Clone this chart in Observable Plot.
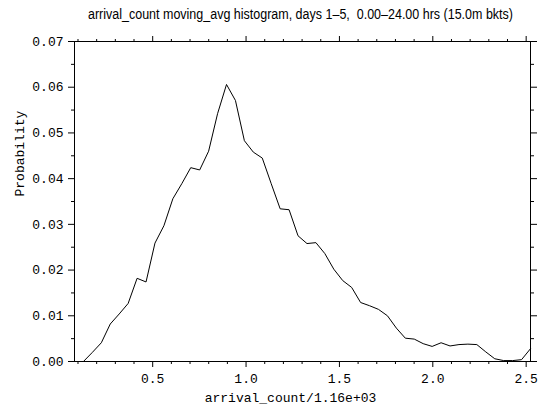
<!DOCTYPE html>
<html>
<head>
<meta charset="utf-8">
<script src="https://cdn.jsdelivr.net/npm/d3@7"></script>
<script src="https://cdn.jsdelivr.net/npm/@observablehq/plot@0.6"></script>
<style>
  html, body { margin: 0; padding: 0; background: #fff; }
  #wrap { position: relative; width: 541px; height: 410px; overflow: hidden; }
  #title {
    position: absolute; left: 88px; top: 0; height: 28px;
    line-height: 28px; white-space: pre;
    font-family: "Liberation Sans Narrow", "Liberation Sans", sans-serif;
    font-size: 14px; color: #000; transform-origin: 0 50%;
  }
  #chart { position: absolute; left: 0; top: 28px; }
</style>
</head>
<body>
<div id="wrap">
  <span id="title"></span>
  <div id="chart"></div>
</div>
<script>
// Histogram bucket centres (arrival_count / 1160) and their probabilities
const binCenters = [
  0.0813, 0.1292, 0.1771, 0.2250, 0.2728, 0.3207, 0.3686, 0.4165, 0.4644, 0.5122,
  0.5601, 0.6080, 0.6559, 0.7038, 0.7516, 0.7995, 0.8474, 0.8953, 0.9432, 0.9910,
  1.0389, 1.0868, 1.1347, 1.1826, 1.2304, 1.2783, 1.3262, 1.3741, 1.4220, 1.4698,
  1.5177, 1.5656, 1.6135, 1.6614, 1.7092, 1.7571, 1.8050, 1.8529, 1.9008, 1.9486,
  1.9965, 2.0444, 2.0923, 2.1402, 2.1880, 2.2359, 2.2838, 2.3317, 2.3796, 2.4274,
  2.4753, 2.5232
];
const probability = [
  0.0000, 0.0000, 0.0020, 0.0041, 0.0082, 0.0104, 0.0127, 0.0182, 0.0174, 0.0259,
  0.0297, 0.0356, 0.0389, 0.0424, 0.0419, 0.0460, 0.0542, 0.0606, 0.0571, 0.0483,
  0.0458, 0.0445, 0.0389, 0.0334, 0.0332, 0.0275, 0.0258, 0.0260, 0.0236, 0.0202,
  0.0177, 0.0162, 0.0129, 0.0122, 0.0114, 0.0100, 0.0073, 0.0051, 0.0049, 0.0039,
  0.0033, 0.0041, 0.0034, 0.0037, 0.0038, 0.0037, 0.0021, 0.0006, 0.0002, 0.0002,
  0.0004, 0.0028
];

// Tick positions
const xMajorTicks = [0.5, 1.0, 1.5, 2.0, 2.5];
const xMinorTicks = [0.1, 0.2, 0.3, 0.4, 0.6, 0.7, 0.8, 0.9, 1.1, 1.2, 1.3, 1.4,
                     1.6, 1.7, 1.8, 1.9, 2.1, 2.2, 2.3, 2.4];
const yMajorTicks = [0.00, 0.01, 0.02, 0.03, 0.04, 0.05, 0.06, 0.07];
const yMinorTicks = [0.005, 0.015, 0.025, 0.035, 0.045, 0.055, 0.065];

// Text
const titleText = "arrival_count moving_avg histogram, days 1\u20135,  0.00\u201324.00 hrs (15.0m bkts)";
const xLabel = "arrival_count/1.16e+03";
const yLabel = "Probability";

// Title in a condensed face: squeeze it horizontally to a fixed width
const titleEl = document.getElementById("title");
titleEl.textContent = titleText;
const titleWidth = 425;
const naturalWidth = titleEl.getBoundingClientRect().width;
if (naturalWidth > titleWidth) titleEl.style.transform = `scaleX(${titleWidth / naturalWidth})`;

const data = binCenters.map((x, i) => ({x, p: probability[i]}));
const blank = () => "";

const chart = Plot.plot({
  width: 541,
  height: 382,
  marginLeft: 74,
  marginRight: 11,
  marginTop: 13,
  marginBottom: 49,
  style: {
    fontFamily: "'Liberation Mono', 'DejaVu Sans Mono', monospace",
    fontSize: "13px",
    color: "#000",
    background: "#fff",
    overflow: "visible"
  },
  x: {domain: [binCenters[0], binCenters[binCenters.length - 1]]},
  y: {domain: [0, 0.07]},
  marks: [
    Plot.frame({stroke: "#000", strokeWidth: 1}),
    // bottom axis
    Plot.axisX({anchor: "bottom", ticks: xMajorTicks, tickSize: 6, tickPadding: 6,
                tickFormat: d3.format(".1f"), label: null}),
    Plot.axisX({anchor: "bottom", ticks: xMinorTicks, tickSize: 3, tickFormat: blank, label: null}),
    // top axis
    Plot.axisX({anchor: "top", ticks: xMajorTicks, tickSize: 6, tickFormat: blank, label: null}),
    Plot.axisX({anchor: "top", ticks: xMinorTicks, tickSize: 3, tickFormat: blank, label: null}),
    // left axis
    Plot.axisY({anchor: "left", ticks: yMajorTicks, tickSize: 6, tickPadding: 5,
                tickFormat: d3.format(".2f"), label: null}),
    Plot.axisY({anchor: "left", ticks: yMinorTicks, tickSize: 3, tickFormat: blank, label: null}),
    // right axis
    Plot.axisY({anchor: "right", ticks: yMajorTicks, tickSize: 6, tickFormat: blank, label: null}),
    Plot.axisY({anchor: "right", ticks: yMinorTicks, tickSize: 3, tickFormat: blank, label: null}),
    // histogram curve
    Plot.line(data, {x: "x", y: "p", stroke: "#000", strokeWidth: 1}),
    // axis titles
    Plot.text([xLabel], {frameAnchor: "bottom", dy: 40, dx: -12, fontSize: 13}),
    Plot.text([yLabel], {frameAnchor: "left", rotate: -90, dx: -55, dy: -5, fontSize: 13})
  ]
});

document.getElementById("chart").appendChild(chart);
</script>
</body>
</html>
